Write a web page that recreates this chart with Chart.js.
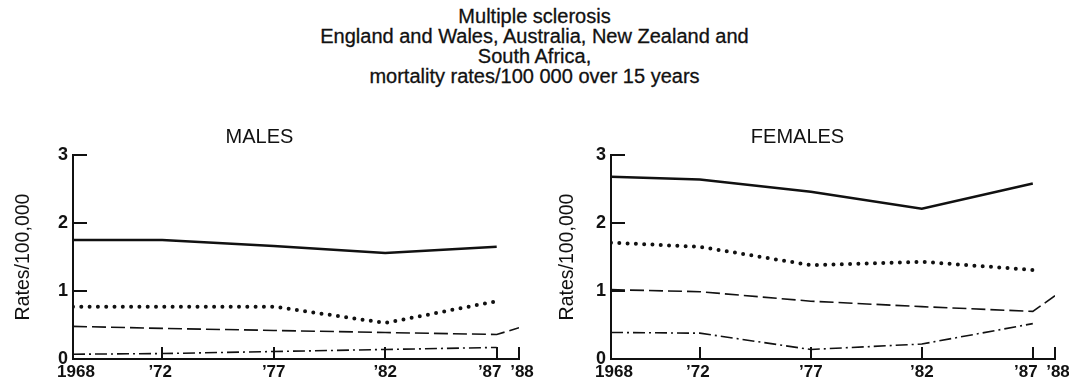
<!DOCTYPE html>
<html>
<head>
<meta charset="utf-8">
<script src="https://cdn.jsdelivr.net/npm/chart.js@4"></script>
<style>
  body { margin: 0; background: #fff; width: 1069px; height: 381px; position: relative; overflow: hidden;
         font-family: "Liberation Sans", Arial, sans-serif; color: #111; }
  .title { position: absolute; left: 0; top: 6px; width: 1069px; text-align: center; font-size: 20px; line-height: 20px;
           -webkit-text-stroke: 0.3px #111; }
  .panel { position: absolute; top: 110px; height: 271px; }
</style>
</head>
<body>
<div class="title">Multiple sclerosis<br>England and Wales, Australia, New Zealand and<br>South Africa,<br>mortality rates/100 000 over 15 years</div>
<div class="panel" style="left:0;width:540px"><canvas id="males"></canvas></div>
<div class="panel" style="left:540px;width:529px"><canvas id="females"></canvas></div>
<script>
const years = [1968, 1972, 1977, 1982, 1987, 1988];
const tickLabels = ["1968", "\u201972", "\u201977", "\u201982", "\u201987", "\u201988"];
const yTickValues = [1, 2, 3];

// no legend in the original, so which country is which line is a guess
const countries = ["England and Wales", "New Zealand", "Australia", "South Africa"];

const malesEW = [1.75, 1.75, 1.66, 1.56, 1.65, null];
const malesNZ = [0.77, 0.77, 0.77, 0.53, 0.85, null];
const malesAU = [0.48, 0.45, 0.42, 0.39, 0.36, 0.46];
const malesSA = [0.07, 0.08, 0.11, 0.14, 0.17, null];

const femalesEW = [2.68, 2.64, 2.46, 2.21, 2.58, null];
const femalesNZ = [1.71, 1.65, 1.38, 1.43, 1.31, null];
const femalesAU = [1.02, 0.99, 0.85, 0.77, 0.70, 0.93];
const femalesSA = [0.39, 0.38, 0.14, 0.22, 0.52, null];

const ink = "#111";
const fontFamily = "'Liberation Sans', Arial, sans-serif";

const lineStyles = [
  { borderWidth: 2.5, borderDash: [] },
  { borderWidth: 4, borderDash: [0, 8.3], borderCapStyle: "round" },
  { borderWidth: 1.6, borderDash: [14, 5] },
  { borderWidth: 1.6, borderDash: [12, 4, 2, 4] },
];

const toPoints = (values) =>
  years.map((x, i) => ({ x, y: values[i] })).filter((p) => p.y !== null);

// tick marks point inward, and a few labels sit a little off their tick
const axisMarks = {
  id: "axisMarks",
  afterDatasetsDraw(chart) {
    const { ctx, chartArea, scales } = chart;
    const { left, bottom } = chartArea;
    ctx.save();
    ctx.strokeStyle = ink;
    ctx.lineWidth = 2;
    yTickValues.forEach((v) => {
      const y = Math.round(scales.y.getPixelForValue(v));
      ctx.beginPath();
      ctx.moveTo(left, y);
      ctx.lineTo(left + 14, y);
      ctx.stroke();
    });
    years.slice(1).forEach((yr) => {
      const x = Math.round(scales.x.getPixelForValue(yr));
      ctx.beginPath();
      ctx.moveTo(x, bottom);
      ctx.lineTo(x, bottom - 12);
      ctx.stroke();
    });
    const shifts = [3, -2, 0, 0, -7, 3];
    ctx.fillStyle = ink;
    ctx.font = "bold 17px " + fontFamily;
    ctx.textAlign = "center";
    ctx.textBaseline = "middle";
    years.forEach((yr, i) => {
      ctx.fillText(tickLabels[i], scales.x.getPixelForValue(yr) + shifts[i], bottom + 13);
    });
    ctx.restore();
  },
};

const makeChart = (id, title, series, yAxisWidth, titlePad, rightPad) => {
  new Chart(document.getElementById(id), {
    type: "line",
    data: {
      datasets: series.map((values, i) => ({
        label: countries[i],
        data: toPoints(values),
        borderColor: ink,
        pointRadius: 0,
        tension: 0,
        fill: false,
        ...lineStyles[i],
      })),
    },
    options: {
      responsive: true,
      maintainAspectRatio: false,
      animation: false,
      layout: { padding: { left: 0, right: rightPad, top: 0, bottom: 0 } },
      plugins: {
        legend: { display: false },
        tooltip: { enabled: false },
        title: {
          display: true,
          text: title,
          color: ink,
          font: { family: fontFamily, size: 20, weight: "normal", lineHeight: 1.2 },
          padding: { top: 15, bottom: 6 },
        },
      },
      scales: {
        x: {
          type: "linear",
          min: 1968,
          max: 1988,
          ticks: { display: false },
          grid: { drawOnChartArea: false, drawTicks: false },
          border: { display: true, color: ink, width: 2 },
          afterFit: (scale) => { scale.height = 22; },
        },
        y: {
          min: 0,
          max: 3,
          ticks: {
            stepSize: 1,
            padding: 5,
            color: ink,
            font: { family: fontFamily, size: 18, weight: "bold" },
          },
          grid: { drawOnChartArea: false, drawTicks: false },
          border: { display: true, color: ink, width: 2 },
          title: {
            display: true,
            text: "Rates/100,000",
            color: ink,
            font: { family: fontFamily, size: 19.5, lineHeight: 1.2 },
            padding: { top: titlePad, bottom: 0 },
          },
          afterFit: (scale) => { scale.width = yAxisWidth; },
        },
      },
    },
    plugins: [axisMarks],
  });
};

makeChart("males", "MALES", [malesEW, malesNZ, malesAU, malesSA], 73, 12, 21);
makeChart("females", "FEMALES", [femalesEW, femalesNZ, femalesAU, femalesSA], 71, 16, 14);
</script>
</body>
</html>
